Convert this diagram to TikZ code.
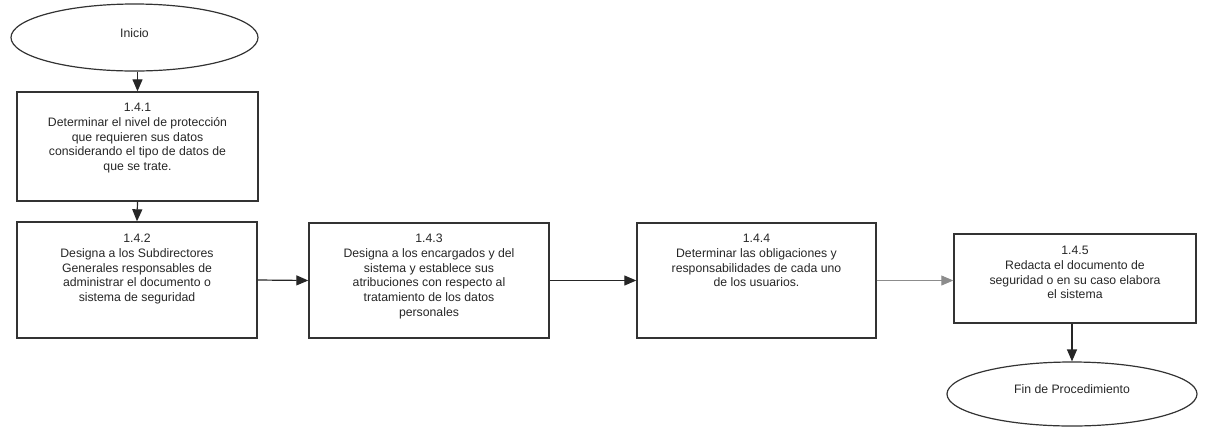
\documentclass[tikz,border=0pt]{standalone}
\usepackage{fontspec}
\setmainfont{Liberation Sans}
\usetikzlibrary{arrows.meta,shapes.geometric}
\begin{document}
\begin{tikzpicture}[x=1bp,y=-1bp,
  boxshape/.style={draw=black!80,line width=1.4bp,minimum width=#1bp,inner sep=0pt},
  ovalshape/.style={ellipse,draw=black!80,line width=1.2bp,inner sep=0pt},
  txt/.style={anchor=north,align=center,inner sep=0pt,text=black!85,font=\fontsize{12.3}{14.8}\selectfont},
  conn/.style={draw=black!85,line width=1.2bp,-{Triangle[length=12bp,width=10bp]}}
]
\useasboundingbox (0,0) rectangle (1205,432);
% start / end
\node[ovalshape,minimum width=247bp,minimum height=67bp] (ini) at (134.5,37.5) {};
\node[txt,anchor=center] (initxt) at (134.5,33) {Inicio};
\node[ovalshape,minimum width=250bp,minimum height=64bp] (fin) at (1072,394) {};
\node[txt,anchor=center] (fintxt) at (1072,389) {Fin de Procedimiento};
% boxes
\node[boxshape=241,minimum height=109bp] (b1) at (137.5,146.5) {};
\node[boxshape=240,minimum height=116bp] (b2) at (137,280) {};
\node[boxshape=240,minimum height=115bp] (b3) at (429,280.5) {};
\node[boxshape=239,minimum height=115bp] (b4) at (756.5,280.5) {};
\node[boxshape=242,minimum height=89bp] (b5) at (1075,278.5) {};
% texts
\node[txt] (t1) at (137.5,103) {1.4.1\\Determinar el nivel de protección\\que requieren sus datos\\considerando el tipo de datos de\\que se trate.};
\node[txt] (t2) at (137,234) {1.4.2\\Designa a los Subdirectores\\Generales responsables de\\administrar el documento o\\sistema de seguridad};
\node[txt] (t3) at (429,234) {1.4.3\\Designa a los encargados y del\\sistema y establece sus\\atribuciones con respecto al\\tratamiento de los datos\\personales};
\node[txt] (t4) at (756.5,234) {1.4.4\\Determinar las obligaciones y\\responsabilidades de cada uno\\de los usuarios.};
\node[txt] (t5) at (1075,246) {1.4.5\\Redacta el documento de\\seguridad o en su caso elabora\\el sistema};
% connectors
\draw[conn] (ini.south -| b1.north) -- (b1.north);
\draw[conn] (b1.south) -- (b2.north);
\draw[conn] (b2.east) -- (b3.west);
\draw[conn] (b3.east) -- (b4.west);
\draw[conn,draw=black!45,line width=0.9bp] (b4.east) -- (b4.east -| b5.west);
\draw[conn] (b5.south -| fin.north) -- (fin.north);
\end{tikzpicture}
\end{document}
